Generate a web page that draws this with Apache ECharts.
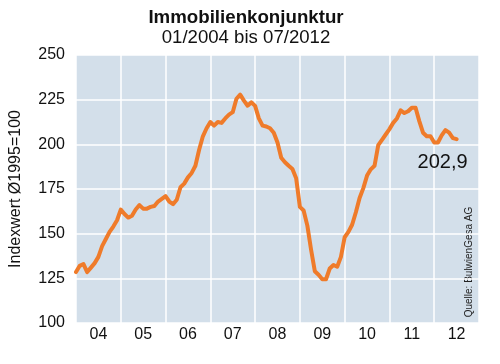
<!DOCTYPE html>
<html>
<head>
<meta charset="utf-8">
<script src="https://cdn.jsdelivr.net/npm/echarts@6/dist/echarts.min.js"></script>
<style>
html,body{margin:0;padding:0;background:#fff;}
#chart{width:500px;height:364px;}
</style>
</head>
<body>
<div id="chart"></div>
<script>
// Monthly index values, 01/2004 .. 07/2012 (Ø1995 = 100)
var startYear = 2004;
var yearLabels = ['04','05','06','07','08','09','10','11','12'];
var indexValues = [
  128.5,132,133,128.5,131,133.5,137,143,147,151,154,157.5,   // 2004
  163.5,161,159,160,163.5,166,164,164,165,165.5,168,169.5,   // 2005
  171,168,166.5,169,176,178,181.5,184,188,197,204.5,209,     // 2006
  212.5,210.5,212.5,212,214.5,216.6,218,225.5,227.8,224.5,221.6,223.5, // 2007
  221.5,214.5,210.5,210,209,206.5,201,192.5,190,188,186.2,181,         // 2008
  165,163,154.5,141,129,127,124.5,124.5,130.5,132.5,131.5,137,         // 2009
  148,151,155,162,170,175.5,182.5,186,188,199.5,202.5,205.5,           // 2010
  208.5,212,214.5,219,217.5,218.5,220.5,220.5,213,206.5,204.5,204.5,   // 2011
  201,201,205,208,206.5,203.5,202.9                                    // 2012
];
var yTicks = [100,125,150,175,200,225,250];
var titleText = 'Immobilienkonjunktur';
var subtitleText = '01/2004 bis 07/2012';
var yAxisName = 'Indexwert \u00D81995=100';
var sourceText = 'Quelle: BulwienGesa AG';

var seriesData = indexValues.map(function(v, i){ return [i, v]; });
var lastIdx = indexValues.length - 1;
var monthsTotal = yearLabels.length * 12;

var FONT = '"Liberation Sans", Arial, Helvetica, sans-serif';
var chart = echarts.init(document.getElementById('chart'), null, {renderer:'canvas'});
chart.setOption({
  animation: false,
  backgroundColor: '#ffffff',
  title: {
    text: titleText,
    subtext: subtitleText,
    left: 241,
    textAlign: 'center',
    top: 3,
    itemGap: 1,
    padding: 5,
    textStyle: {fontFamily: FONT, fontSize: 18.7, fontWeight: 'bold', color: '#111'},
    subtextStyle: {fontFamily: FONT, fontSize: 18.6, color: '#111'}
  },
  grid: {
    left: 73, right: 21, top: 55, bottom: 41,
    show: true, backgroundColor: '#d3dfea', borderWidth: 0
  },
  xAxis: [
    {
      type: 'value', min: 0, max: monthsTotal, interval: 12,
      axisLine: {show:false}, axisTick: {show:false}, axisLabel: {show:false},
      splitLine: {show:true, lineStyle:{color:'#ffffff', width:1.5}}
    },
    {
      type: 'category', data: yearLabels, boundaryGap: true, position: 'bottom',
      axisLine: {show:false}, axisTick: {show:false}, splitLine: {show:false},
      axisLabel: {fontFamily: FONT, fontSize: 16, color: '#111', margin: 4}
    }
  ],
  yAxis: {
    type: 'value', min: 100, max: 250, interval: 25,
    name: yAxisName, nameLocation: 'middle', nameRotate: 90, nameGap: 52,
    nameTextStyle: {fontFamily: FONT, fontSize: 16, color: '#111'},
    axisLine: {show:false}, axisTick: {show:false},
    axisLabel: {fontFamily: FONT, fontSize: 16, color: '#111', margin: 11},
    splitLine: {show:true, lineStyle:{color:'#ffffff', width:1.5}}
  },
  series: [{
    type: 'line',
    xAxisIndex: 0,
    data: seriesData,
    showSymbol: false,
    symbol: 'none',
    lineStyle: {color: '#ef7b2a', width: 4, join: 'round', cap: 'round'},
    markPoint: {
      symbol: 'circle', symbolSize: 0,
      data: [{coord: seriesData[lastIdx], value: indexValues[lastIdx]}],
      label: {
        show: true, position: 'bottom', distance: 13, offset: [-14, 0],
        fontFamily: FONT, fontSize: 20, color: '#111',
        formatter: function(p){ return p.value.toFixed(1).replace('.', ','); }
      }
    }
  }],
  graphic: [{
    type: 'text',
    x: 469.5, y: 262, rotation: Math.PI/2,
    style: {text: sourceText, fontFamily: FONT, fontSize: 10, fill: '#222',
            textAlign: 'center', textVerticalAlign: 'middle'}
  }]
});
</script>
</body>
</html>
